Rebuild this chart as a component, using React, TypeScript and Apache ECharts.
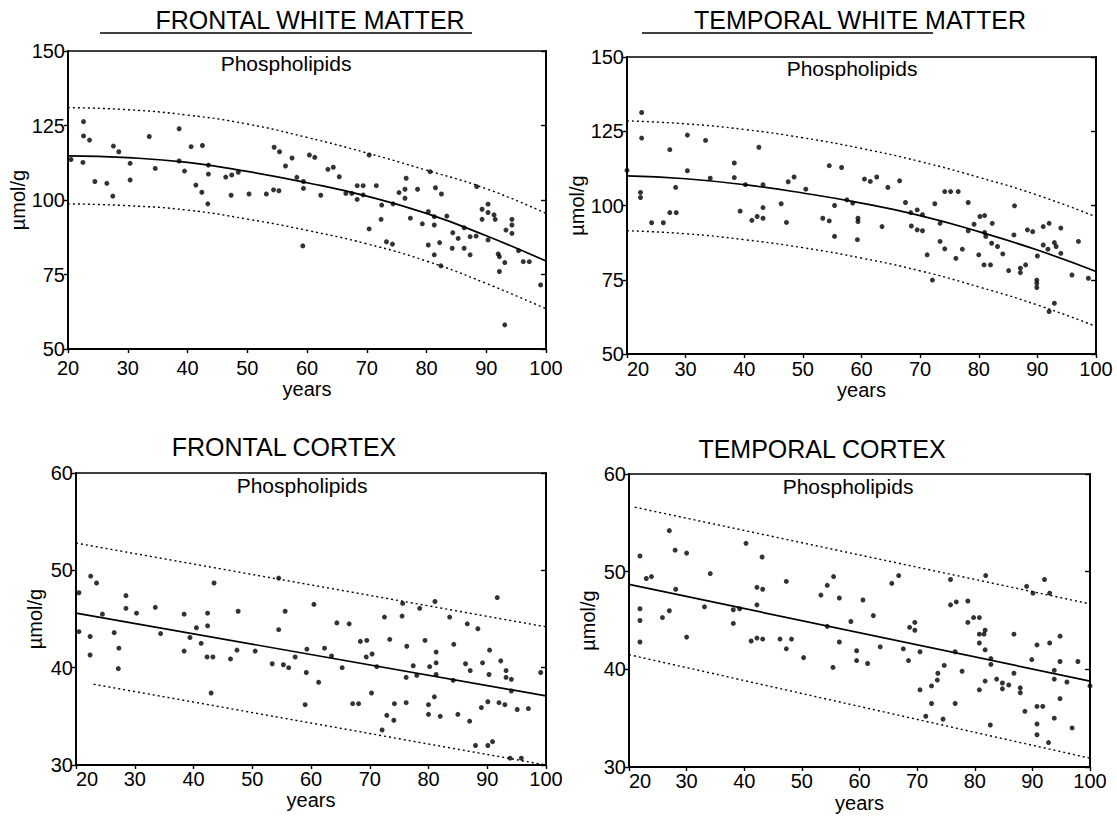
import React, { useEffect, useRef } from "react";
import * as echarts from "echarts";

// ---------- data ----------
const ageTicks = [20, 30, 40, 50, 60, 70, 80, 90, 100];
const curveAges = [20, 30, 40, 50, 60, 70, 80, 90, 100];

// Frontal white matter (µmol/g)
const fwmFit = [114.8, 114.2, 112.6, 109.6, 105.8, 101.3, 95.5, 88.0, 79.5];
const fwmUpper = [131.0, 130.3, 128.5, 125.5, 121.0, 115.8, 110.0, 103.8, 95.5];
const fwmLower = [98.7, 98.1, 96.6, 93.6, 89.8, 85.3, 79.5, 72.0, 63.5];
const fwmPoints: number[][] = [
  [20.5, 113.6], [22.6, 126.3], [22.6, 121.5], [23.6, 120.1], [22.5, 112.6], [24.5, 106.2],
  [26.5, 105.6], [27.6, 118.1], [28.5, 116.2], [27.5, 101.3], [30.4, 112.3], [30.4, 106.7],
  [33.6, 121.3], [34.6, 110.6], [38.6, 123.9], [38.6, 113.1], [39.5, 109.7], [40.6, 117.9],
  [42.5, 118.3], [41.4, 105.0], [42.4, 102.6], [43.4, 98.7], [43.5, 111.7], [43.5, 108.7],
  [46.4, 107.7], [47.4, 108.4], [48.5, 109.3], [47.3, 101.6], [50.3, 102.0], [53.2, 102.0],
  [54.4, 103.4], [55.3, 103.1], [54.5, 117.7], [55.4, 116.2], [56.4, 111.4], [57.5, 114.1],
  [58.3, 107.6], [59.4, 106.2], [59.4, 103.9], [59.3, 84.6], [60.4, 115.1], [61.3, 114.3],
  [62.3, 101.6], [63.5, 110.3], [64.4, 111.0], [65.4, 107.8], [66.5, 102.2], [67.5, 102.2],
  [68.4, 100.2], [68.4, 104.8], [69.4, 104.8], [69.4, 101.7], [70.4, 115.1], [70.4, 90.3],
  [71.6, 104.8], [72.5, 98.3], [72.4, 93.5], [73.3, 86.0], [74.3, 85.2], [74.4, 98.7],
  [75.4, 102.5], [76.4, 103.6], [76.6, 107.3], [76.4, 100.6], [77.3, 93.9], [78.5, 103.6],
  [79.3, 92.0], [80.3, 96.1], [81.3, 94.4], [81.3, 91.6], [80.6, 109.5], [80.3, 84.9],
  [81.3, 81.6], [81.5, 104.1], [82.5, 102.0], [82.2, 85.7], [82.4, 77.9], [83.4, 94.6],
  [84.4, 89.0], [84.3, 83.8], [85.3, 87.1], [86.3, 90.7], [86.3, 83.8], [87.3, 87.7],
  [87.3, 81.6], [88.3, 87.9], [88.4, 104.5], [89.3, 96.9], [89.3, 93.5], [90.3, 98.6],
  [90.3, 95.8], [90.3, 86.6], [91.3, 95.0], [91.5, 93.5], [92.0, 81.9], [92.2, 81.0],
  [92.2, 76.0], [93.1, 79.0], [93.1, 58.1], [93.3, 89.9], [94.3, 93.5], [94.3, 91.6],
  [94.3, 88.8], [95.4, 83.0], [96.2, 79.3], [97.2, 79.3], [99.1, 71.5],
];

// Temporal white matter (µmol/g)
const twmFit = [110.0, 109.0, 107.0, 104.2, 100.8, 96.6, 91.2, 85.0, 77.8];
const twmUpper = [128.5, 127.5, 125.6, 122.8, 119.2, 114.8, 109.5, 103.5, 96.2];
const twmLower = [91.5, 90.5, 88.5, 85.8, 82.3, 78.0, 72.6, 66.5, 59.3];
const twmPoints: number[][] = [
  [20.0, 111.8], [22.5, 131.3], [22.5, 122.7], [22.3, 104.4], [22.3, 102.7], [24.2, 94.2],
  [26.2, 94.2], [27.3, 118.8], [27.3, 97.6], [28.4, 97.6], [28.3, 106.1], [30.3, 123.7],
  [30.3, 111.7], [33.4, 121.9], [34.2, 109.2], [38.3, 114.3], [38.3, 109.4], [39.3, 98.1],
  [40.2, 107.0], [41.3, 95.0], [42.2, 96.3], [43.2, 95.7], [42.5, 119.6], [43.2, 107.0],
  [43.2, 99.3], [46.3, 100.6], [47.2, 94.3], [47.5, 108.0], [48.5, 109.6], [50.5, 105.5],
  [53.4, 95.7], [54.5, 113.4], [54.5, 94.8], [55.4, 100.0], [55.4, 89.6], [56.6, 112.8],
  [57.5, 101.9], [58.5, 100.8], [59.4, 95.7], [59.4, 94.6], [59.3, 88.5], [60.5, 108.9],
  [61.5, 108.1], [62.6, 109.6], [63.5, 92.9], [64.5, 106.1], [66.5, 108.3], [67.5, 101.0],
  [68.4, 97.6], [68.5, 93.1], [69.5, 98.5], [69.5, 91.8], [70.4, 96.9], [70.4, 91.5],
  [71.2, 83.4], [72.1, 74.9], [72.5, 100.6], [73.4, 87.9], [73.4, 94.0], [74.2, 104.7],
  [74.2, 85.4], [75.2, 104.7], [76.1, 82.2], [76.5, 104.7], [77.2, 85.3], [78.2, 101.0],
  [78.2, 91.5], [79.2, 93.7], [80.0, 83.4], [80.2, 96.3], [80.9, 80.0], [81.0, 96.6],
  [81.0, 90.9], [81.2, 89.6], [82.0, 80.0], [82.2, 87.3], [82.3, 94.0], [83.2, 86.2],
  [84.1, 83.7], [85.1, 78.1], [86.0, 90.1], [86.1, 99.9], [87.1, 78.9], [87.1, 77.4],
  [88.0, 80.0], [88.3, 91.8], [89.2, 91.2], [89.9, 74.9], [89.9, 73.8], [89.9, 72.4],
  [90.0, 83.0], [91.0, 92.9], [91.0, 86.7], [91.8, 85.3], [92.0, 94.0], [92.0, 64.3],
  [92.9, 67.1], [92.9, 87.5], [93.2, 86.2], [94.0, 92.4], [94.0, 83.9], [95.9, 76.6],
  [97.0, 87.9], [98.7, 75.5],
];

// Frontal cortex (µmol/g)
const fcLineAges = [20, 100];
const fcLowerAges = [23, 100];
const fcFit = [45.6, 37.1];
const fcUpper = [52.8, 44.2];
const fcLower = [38.3, 30.0];
const fcPoints: number[][] = [
  [20.5, 47.7], [20.5, 43.7], [22.5, 49.4], [23.5, 48.7], [22.4, 43.2], [22.4, 41.3],
  [24.5, 45.5], [26.5, 43.6], [27.3, 42.0], [27.2, 39.9], [28.5, 47.4], [28.5, 46.1],
  [30.3, 45.6], [33.5, 46.2], [34.4, 43.5], [38.4, 45.5], [38.4, 41.7], [39.4, 43.1],
  [40.5, 44.1], [41.3, 42.5], [42.4, 45.6], [42.4, 44.3], [42.3, 41.1], [43.3, 41.1],
  [43.5, 48.7], [43.0, 37.4], [46.3, 40.9], [47.4, 41.8], [47.6, 45.8], [50.5, 41.7],
  [53.4, 40.4], [54.5, 43.9], [55.3, 40.3], [55.6, 45.8], [56.2, 40.0], [57.3, 41.1],
  [54.5, 49.2], [59.3, 41.9], [59.2, 39.5], [59.0, 36.2], [60.5, 46.5], [61.3, 38.5],
  [62.3, 42.0], [63.5, 41.2], [64.4, 44.6], [65.3, 40.0], [66.5, 44.5], [67.1, 36.3],
  [68.1, 36.3], [68.4, 42.7], [69.5, 42.8], [69.4, 41.1], [70.4, 41.4], [70.3, 37.4],
  [71.2, 40.1], [72.1, 33.6], [72.5, 45.2], [72.9, 35.1], [73.4, 42.9], [74.1, 34.6],
  [74.2, 36.3], [75.5, 45.3], [75.6, 46.6], [76.2, 36.4], [76.3, 42.2], [76.2, 39.0],
  [77.4, 40.2], [78.0, 39.2], [78.5, 46.1], [79.4, 42.8], [80.2, 40.1], [80.0, 36.2],
  [80.0, 35.2], [81.1, 46.8], [81.0, 37.0], [81.3, 40.5], [81.3, 41.6], [81.3, 39.3],
  [82.0, 35.0], [83.6, 45.2], [84.3, 42.4], [84.2, 38.7], [85.0, 35.2], [86.6, 44.5],
  [86.3, 40.4], [87.1, 39.7], [88.4, 44.0], [87.0, 34.5], [88.0, 32.0], [89.2, 40.5],
  [89.0, 35.9], [90.1, 32.0], [90.3, 39.3], [90.1, 36.5], [90.4, 41.8], [90.9, 32.4],
  [91.7, 47.2], [92.3, 40.7], [92.0, 36.4], [93.0, 36.2], [93.2, 39.7], [93.2, 39.0],
  [94.1, 38.8], [94.1, 37.6], [93.9, 30.7], [95.1, 35.7], [95.8, 30.7], [97.0, 35.8],
  [99.1, 39.5],
];

// Temporal cortex (µmol/g)
const tcLineAges = [20, 100];
const tcUpperAges = [21, 100];
const tcFit = [48.7, 38.8];
const tcUpper = [56.6, 46.7];
const tcLower = [41.5, 30.9];
const tcPoints: number[][] = [
  [19.9, 52.6], [21.9, 51.6], [21.9, 46.2], [21.9, 45.0], [21.9, 42.8], [23.0, 49.3],
  [23.9, 49.5], [25.8, 45.3], [27.0, 54.2], [27.0, 46.0], [28.0, 52.2], [28.1, 48.2],
  [30.0, 51.9], [30.0, 43.3], [33.1, 46.4], [34.1, 49.8], [38.1, 46.1], [38.1, 44.7],
  [39.2, 46.2], [40.3, 52.9], [42.2, 48.4], [42.2, 46.6], [41.2, 42.9], [42.2, 43.2],
  [43.1, 51.5], [43.2, 48.2], [43.2, 43.1], [46.2, 43.1], [47.3, 42.1], [47.3, 49.0],
  [48.2, 43.1], [50.3, 41.2], [53.3, 47.6], [54.4, 48.6], [55.5, 49.5], [54.4, 44.4],
  [55.4, 40.2], [56.5, 47.3], [56.5, 42.8], [58.5, 44.9], [59.5, 41.9], [59.5, 40.9],
  [60.6, 47.1], [61.4, 40.6], [62.4, 45.5], [63.6, 42.3], [65.6, 48.8], [66.8, 49.6],
  [67.6, 42.1], [68.5, 40.9], [68.7, 44.3], [69.6, 44.8], [69.6, 44.0], [70.5, 41.8],
  [70.5, 37.9], [71.5, 35.2], [72.5, 38.3], [72.5, 36.5], [73.5, 38.9], [73.6, 39.6],
  [74.5, 34.9], [74.7, 40.4], [75.8, 49.2], [75.8, 46.6], [76.6, 41.8], [76.6, 36.5],
  [76.8, 46.9], [77.8, 39.8], [78.8, 47.0], [78.8, 44.8], [79.8, 45.3], [80.8, 45.3],
  [80.8, 43.6], [80.8, 42.7], [80.8, 37.9], [81.6, 43.6], [81.8, 44.0], [81.8, 42.0],
  [81.8, 38.8], [81.9, 49.6], [82.8, 41.1], [82.8, 40.5], [82.7, 34.3], [83.8, 39.0],
  [84.8, 38.6], [84.8, 38.0], [85.9, 38.4], [86.8, 43.6], [86.8, 39.6], [87.9, 38.1],
  [87.9, 37.6], [88.7, 35.7], [89.0, 48.5], [89.9, 41.0], [90.1, 47.8], [90.8, 42.5],
  [90.8, 36.2], [90.8, 34.4], [90.8, 33.3], [91.8, 36.2], [92.1, 49.2], [92.8, 32.5],
  [93.0, 47.8], [93.0, 42.7], [93.8, 39.9], [93.8, 39.0], [93.8, 35.0], [94.8, 43.4],
  [94.8, 40.8], [94.8, 37.0], [96.0, 38.7], [96.9, 34.0], [97.9, 40.8], [100.0, 38.3],
];

const whiteMatterTicks = [50, 75, 100, 125, 150];
const cortexTicks = [30, 40, 50, 60];

const panelTitles = ["FRONTAL WHITE MATTER", "TEMPORAL WHITE MATTER", "FRONTAL CORTEX", "TEMPORAL CORTEX"];
const subTitle = "Phospholipids";
const yName = "µmol/g";
const xName = "years";

// ---------- helpers ----------
const FONT = "'Liberation Sans', Arial, Helvetica, sans-serif";
const zip = (xs: number[], ys: number[]) => xs.map((x, i) => [x, ys[i]]);

const grids = [
  { left: 68, right: 571, top: 51, bottom: 472 },
  { left: 627, right: 21, top: 57, bottom: 467 },
  { left: 76, right: 571, top: 473, bottom: 56 },
  { left: 629, right: 27, top: 474, bottom: 54 },
];

export default function App() {
  const ref = useRef<HTMLDivElement>(null);

  useEffect(() => {
    if (!ref.current) return;
    const chart = echarts.init(ref.current, null, { renderer: "svg" });

    const xLabelMargin = [12, 8, 7, 7];
    const xNameGap = [17, 17, 22, 26];
    const yNameGap = [32, 31, 31, 31];
    const minLabelAlign = ["center", "left", "left", "left"];

    const xAxis = grids.map((_, i) => ({
      type: "value",
      gridIndex: i,
      min: ageTicks[0],
      max: ageTicks[ageTicks.length - 1],
      interval: 10,
      name: xName,
      nameLocation: "middle",
      nameGap: xNameGap[i],
      nameTextStyle: { fontFamily: FONT, fontSize: 20, color: "#000" },
      axisLine: { show: true, onZero: false, lineStyle: { color: "#000", width: 1.8 } },
      axisTick: { show: true, inside: false, length: 4, lineStyle: { color: "#000", width: 1.4 } },
      axisLabel: {
        fontFamily: FONT, fontSize: 20, lineHeight: 14, color: "#000", margin: xLabelMargin[i],
        alignMinLabel: minLabelAlign[i],
      },
      splitLine: { show: false },
    }));

    const yLeft = grids.map((_, i) => {
      const ticks = i < 2 ? whiteMatterTicks : cortexTicks;
      return {
        type: "value",
        gridIndex: i,
        position: "left",
        min: ticks[0],
        max: ticks[ticks.length - 1],
        interval: ticks[1] - ticks[0],
        name: yName,
        nameLocation: "middle",
        nameRotate: 90,
        nameGap: yNameGap[i],
        nameTextStyle: { fontFamily: FONT, fontSize: 20, color: "#000" },
        axisLine: { show: true, onZero: false, lineStyle: { color: "#000", width: 1.8 } },
        axisTick: { show: true, inside: false, length: 4, lineStyle: { color: "#000", width: 1.4 } },
        axisLabel: { fontFamily: FONT, fontSize: 20, lineHeight: 14, color: "#000", margin: 3 },
        splitLine: { show: false },
      };
    });

    const yRight = grids.map((_, i) => {
      const ticks = i < 2 ? whiteMatterTicks : cortexTicks;
      return {
        type: "value",
        gridIndex: i,
        position: "right",
        min: ticks[0],
        max: ticks[ticks.length - 1],
        interval: ticks[1] - ticks[0],
        axisLine: { show: true, onZero: false, lineStyle: { color: "#000", width: 1.8 } },
        axisTick: { show: true, inside: true, length: 5, lineStyle: { color: "#000", width: 1.4 } },
        axisLabel: { show: false },
        splitLine: { show: false },
      };
    });

    const solid = { color: "#000", width: 1.7 };
    const dotted = { color: "#000", width: 1.4, type: [2, 3] as number[] };

    const panelSeries = (i: number, pts: number[][], fit: number[][], up: number[][], lo: number[][], smooth: boolean) => [
      {
        type: "line", xAxisIndex: i, yAxisIndex: i, data: up, showSymbol: false, smooth,
        lineStyle: dotted, silent: true, z: 2,
      },
      {
        type: "line", xAxisIndex: i, yAxisIndex: i, data: lo, showSymbol: false, smooth,
        lineStyle: dotted, silent: true, z: 2,
      },
      {
        type: "line", xAxisIndex: i, yAxisIndex: i, data: fit, showSymbol: false, smooth,
        lineStyle: solid, silent: true, z: 3,
      },
      {
        type: "scatter", xAxisIndex: i, yAxisIndex: i, data: pts, symbol: "circle", symbolSize: 5,
        itemStyle: { color: "#000" }, z: 4,
      },
    ];

    const series = [
      ...panelSeries(0, fwmPoints, zip(curveAges, fwmFit), zip(curveAges, fwmUpper), zip(curveAges, fwmLower), true),
      ...panelSeries(1, twmPoints, zip(curveAges, twmFit), zip(curveAges, twmUpper), zip(curveAges, twmLower), true),
      ...panelSeries(2, fcPoints, zip(fcLineAges, fcFit), zip(fcLineAges, fcUpper), zip(fcLowerAges, fcLower), false),
      ...panelSeries(3, tcPoints, zip(tcLineAges, tcFit), zip(tcUpperAges, tcUpper), zip(tcLineAges, tcLower), false),
    ];

    const titleText = (text: string, x: number, y: number) => ({
      type: "text", x, y,
      style: { text, fill: "#000", font: `25px ${FONT}`, textAlign: "center", textVerticalAlign: "middle" },
    });
    const subText = (x: number, y: number) => ({
      type: "text", x, y,
      style: { text: subTitle, fill: "#000", font: `21px ${FONT}`, textAlign: "center", textVerticalAlign: "middle" },
    });
    const underline = (x1: number, x2: number, y: number) => ({
      type: "line", shape: { x1, y1: y, x2, y2: y }, style: { stroke: "#000", lineWidth: 1.6 },
    });

    const option = {
      animation: false,
      backgroundColor: "#fff",
      grid: grids.map((g) => ({ ...g, show: true, borderColor: "#000", borderWidth: 1.6, backgroundColor: "transparent" })),
      xAxis,
      yAxis: [...yLeft, ...yRight],
      series,
      graphic: [
        titleText(panelTitles[0], 310, 20),
        underline(100, 472, 33),
        titleText(panelTitles[1], 860, 20),
        underline(642, 933, 33),
        titleText(panelTitles[2], 284, 447),
        titleText(panelTitles[3], 822, 449),
        subText(286, 63),
        subText(852, 68),
        subText(302, 485),
        subText(848, 486),
      ],
    };

    chart.setOption(option as any);
    return () => chart.dispose();
  }, []);

  return (
    <div
      ref={ref}
      style={{ position: "fixed", left: 0, top: 0, width: 1117, height: 821, background: "#fff" }}
    />
  );
}
